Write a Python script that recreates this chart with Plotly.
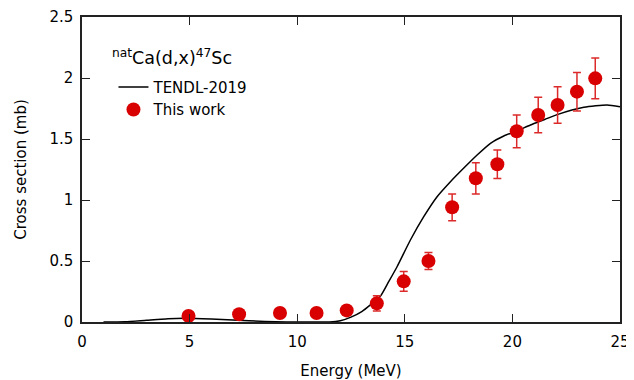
import plotly.graph_objects as go

# TENDL-2019 curve
tendl_e = [1.0, 2.0, 3.0, 4.0, 4.8, 6.0, 7.0, 8.5, 9.5, 11.0, 11.5, 12.0, 12.5, 13.0, 13.4, 13.86,
           14.25, 14.64, 15.26, 15.88, 16.5, 17.12, 17.73, 18.36, 18.98, 19.6, 20.2, 20.84, 21.5,
           22.08, 23.32, 24.4, 25.0]
tendl_xs = [0.0, 0.002, 0.015, 0.027, 0.03, 0.024, 0.016, 0.005, 0.001, 0.0, 0.0, 0.01, 0.04, 0.085, 0.14, 0.21,
            0.33, 0.453, 0.672, 0.863, 1.027, 1.15, 1.26, 1.369, 1.465, 1.525, 1.565, 1.615, 1.66,
            1.70, 1.76, 1.779, 1.765]

# This work
exp_e = [4.95, 7.3, 9.2, 10.9, 12.3, 13.7, 14.95, 16.1, 17.2, 18.3, 19.3, 20.2, 21.2, 22.1, 23.0, 23.85]
exp_xs = [0.05, 0.063, 0.074, 0.074, 0.095, 0.153, 0.333, 0.50, 0.94, 1.178, 1.293, 1.563, 1.697, 1.779, 1.888, 1.997]
exp_err = [0.005, 0.006, 0.007, 0.007, 0.01, 0.063, 0.08, 0.07, 0.11, 0.128, 0.117, 0.134, 0.145, 0.15, 0.158, 0.167]

x_ticks = [0, 5, 10, 15, 20, 25]
y_ticks = [0, 0.5, 1, 1.5, 2, 2.5]
y_tick_labels = ["0", "0.5", "1", "1.5", "2", "2.5"]

FONT = "DejaVu Sans"

fig = go.Figure()
fig.add_trace(go.Scatter(
    x=tendl_e, y=tendl_xs, mode="lines", name="TENDL-2019",
    line=dict(color="black", width=1.5, shape="spline", smoothing=0.6),
))
fig.add_trace(go.Scatter(
    x=exp_e, y=exp_xs, mode="markers", name="This work",
    marker=dict(color="#d80000", size=14),
    error_y=dict(type="data", array=exp_err, color="#dc2a2a", thickness=1.5, width=4),
))

axis_common = dict(
    showline=True, linecolor="#222", linewidth=1.5, mirror="ticks",
    ticks="inside", ticklen=8, tickwidth=1.2, tickcolor="#222",
    showgrid=False, zeroline=False, automargin=False,
    tickfont=dict(family=FONT, size=15, color="black"),
)

# page body adds an 8px offset at top-left; figure is sized so the plot lands where the reference has it
fig.update_layout(
    width=626, height=372,
    margin=dict(l=74, r=14, t=9, b=58),
    paper_bgcolor="white", plot_bgcolor="white",
    font=dict(family=FONT, size=15, color="black"),
    xaxis=dict(range=[0, 25], tickvals=x_ticks, ticklabelstandoff=5,
               title=dict(text="Energy (MeV)", font=dict(family=FONT, size=15, color="black"), standoff=20),
               **axis_common),
    yaxis=dict(range=[0, 2.5], tickvals=y_ticks, ticktext=y_tick_labels, ticklabelstandoff=4,
               title=dict(text="Cross section (mb)", font=dict(family=FONT, size=15, color="black"), standoff=19),
               **axis_common),
    showlegend=True,
    legend=dict(x=0.0585, y=0.824, xanchor="left", yanchor="top",
                bgcolor="rgba(0,0,0,0)", itemwidth=30,
                font=dict(family=FONT, size=15, color="black"), tracegroupgap=0),
    annotations=[dict(
        x=0.052, y=0.870, xref="paper", yref="paper", xanchor="left", yanchor="middle",
        text="<sup>nat</sup>Ca(d,x)<sup>47</sup>Sc", showarrow=False,
        font=dict(family=FONT, size=17.5, color="black"),
    )],
)

fig.write_html("out.html")
